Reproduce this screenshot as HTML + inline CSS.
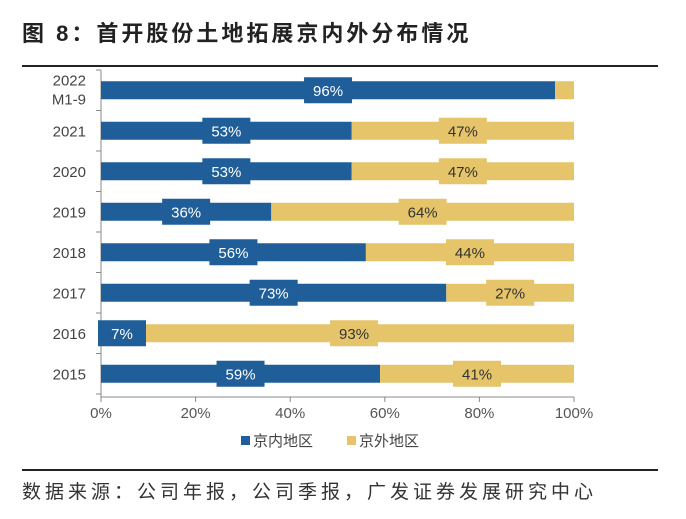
<!DOCTYPE html>
<html><head><meta charset="utf-8"><style>
body{margin:0;background:#fff;width:686px;height:514px;overflow:hidden;font-family:"Liberation Sans","Noto Sans CJK SC",sans-serif}
</style></head><body>
<svg width="686" height="514" xmlns="http://www.w3.org/2000/svg">
<text x="22" y="41" font-size="22" font-weight="bold" letter-spacing="3" fill="#222" font-family="Liberation Sans, Noto Sans CJK SC, sans-serif">图 8：首开股份土地拓展京内外分布情况</text>
<rect x="22" y="65" width="636" height="2" fill="#222"/>
<rect x="22" y="469" width="636" height="2" fill="#222"/>
<text x="22" y="498" font-size="19" letter-spacing="4" fill="#333" font-family="Liberation Sans, Noto Sans CJK SC, sans-serif">数据来源：公司年报，公司季报，广发证券发展研究中心</text>
<g id="plot"></g>
<g>
<rect x="241" y="436" width="9" height="9" fill="#1F5E99"/>
<text x="253" y="446" font-size="15" fill="#444">京内地区</text>
<rect x="347" y="436" width="9" height="9" fill="#E5C46A"/>
<text x="359" y="446" font-size="15" fill="#444">京外地区</text>
</g>
</svg>
<script>
const categories=[["2022","M1-9"],["2021"],["2020"],["2019"],["2018"],["2017"],["2016"],["2015"]];
const inner=[96,53,53,36,56,73,7,59];
const outer=[4,47,47,64,44,27,93,41];
const showOuterLabel=[false,true,true,true,true,true,true,true];
const ticks=[0,20,40,60,80,100];
const NS="http://www.w3.org/2000/svg";
const g=document.getElementById('plot');
const X0=101,X1=574,Y0=70,ROW=40.5;
const x=v=>X0+(X1-X0)*v/100;
const yc=i=>Y0+ROW*(i+0.5);
function mk(t,a,p){const e=document.createElementNS(NS,t);for(const k in a)e.setAttribute(k,a[k]);(p||g).appendChild(e);return e;}
const C1="#1F5E99",C2="#E5C46A";
let ax=mk('line',{x1:X0,y1:Y0,x2:X0,y2:397,stroke:'#888'});


let bx=mk('line',{x1:X0,y1:397,x2:X1,y2:397,stroke:'#888'});


ticks.forEach(t=>{
 const l=mk('line',{x1:x(t),y1:397,x2:x(t),y2:402,stroke:'#888'});
 
 
 const tx=mk('text',{x:x(t),y:418,'font-size':15,fill:'#555','text-anchor':'middle'});
 tx.textContent=t+'%';
 
 
});
for(let i=0;i<=categories.length;i++){
 const l=mk('line',{x1:X0-5,y1:Y0+ROW*i,x2:X0,y2:Y0+ROW*i,stroke:'#888'});
 
 
}
function label(cx,cy,col,txt){
 const r=mk('rect',{x:cx-24,y:cy-13,width:48,height:26,fill:col});
 
 
 const t=mk('text',{x:cx,y:cy+5.5,'font-size':15,fill:col===C1?'#fff':'#333','text-anchor':'middle'});
 t.textContent=txt;
 
 
}
categories.forEach((c,i)=>{
 const cy=yc(i);
 const lt=mk('text',{x:86,y:cy+(c.length>1?-5:5.5),'font-size':15,fill:'#444','text-anchor':'end'});
 
 
 c.forEach((s,j)=>{const ts=mk('tspan',{x:86,dy:j?19:0},lt);ts.textContent=s;});
 const b1=mk('rect',{x:x(0),y:cy-9,width:x(inner[i])-x(0),height:18,fill:C1});
 
 
 const b2=mk('rect',{x:x(inner[i]),y:cy-9,width:x(inner[i]+outer[i])-x(inner[i]),height:18,fill:C2});
 
 
 label(Math.max(x(inner[i]/2),X0+21),cy,C1,inner[i]+'%');
 if(showOuterLabel[i])label(x(inner[i]+outer[i]/2),cy,C2,outer[i]+'%');
});
</script>
</body></html>
